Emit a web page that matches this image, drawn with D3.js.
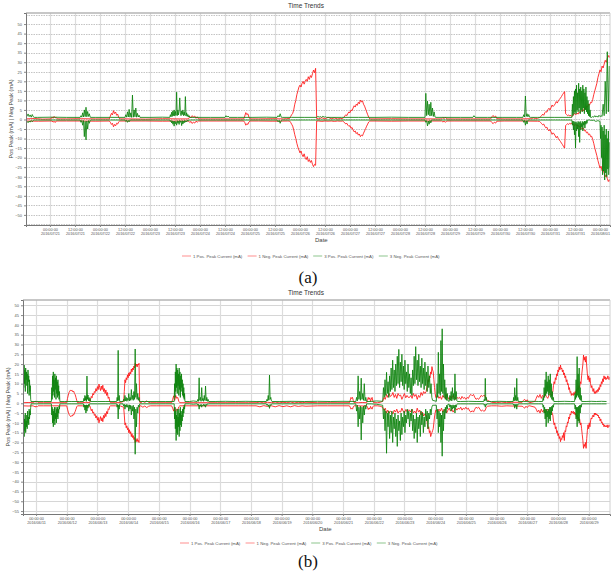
<!DOCTYPE html>
<html>
<head>
<meta charset="utf-8">
<script src="https://cdn.jsdelivr.net/npm/d3@7"></script>
<style>
  body { margin: 0; background: #fff; }
  svg { display: block; font-family: "Liberation Sans", Arial, sans-serif; }
</style>
</head>
<body>
<svg id="chart" width="612" height="576"></svg>
<script>
// series are stored as runs: [first hour, hour step, [values]]
// hours count from the first labelled midnight of each panel
const seriesNames = ["1 Pos. Peak Current (mA)", "1 Neg. Peak Current (mA)",
                     "3 Pos. Peak Current (mA)", "3 Neg. Peak Current (mA)"];
const seriesColors = ["#ff1414", "#ff1414", "#0d820d", "#0d820d"];

const aStart = "2016-07-21T00:00:00Z";
const aYTicks = [-50,-45,-40,-35,-30,-25,-20,-15,-10,-5,0,5,10,15,20,25,30,35,40,45,50];
const aGridY = [-55,-50,-45,-40,-35,-30,-25,-20,-15,-10,-5,0,5,10,15,20,25,30,35,40,45,50,55];

const aRed1Pos = [
  [-11.5, 4, [0.3,0.5,0.2]],
  [0.5, 0.5, [0.3,1.3,0.6,1.6,0.8,1.1,0.3]],
  [8, 7, [0.3,0.4,0.3]],
  [28.5, 0.5, [0.3,1.8,3.2,2.4,4.6,3.1,3.9,2.2,2.8,1.0,0.3]],
  [38, 8, [0.3,0.2,0.4,0.3]],
  [66.5, 0.6, [0.3,1.5,0.8,2.0,1.2,1.8,0.6,1.4,0.3]],
  [76, 8, [0.3,0.3]],
  [93, 0.5, [0.3,1.8,3.6,2.5,3.0,1.2,0.3]],
  [100, 7, [0.3,0.4]],
  [112, 1.5, [0.3,0.4]],
  [115, 0.5, [0.5,1.5,2.5,3.2,5,8,10,13,15,17,18,17,19,20,18.5,20,21,20,22.4,21,23,22,24,25.9,24.5,26.8,0.5]],
  [129, 1.5, [0.3,0.9,0.3,1.1,0.4,0.8,0.3,0.5]],
  [140.5, 0.5, [0.5,1,1.8,2.5,2,3.2,4,3.5,5,4.6,6,7.2,6.5,8,7.4,9,8.2,10.2,9.1,9.8,8,7,5.5,4,2.5,1.2,0.3]],
  [156, 8, [0.3,0.4,0.3,0.3]],
  [188, 0.6, [0.3,1.0,0.4,1.2,0.3]],
  [194, 8, [0.3,0.3]],
  [211.5, 0.6, [0.3,1.4,2.1,1.2,1.8,0.4]],
  [218, 8, [0.3,0.3]],
  [231, 1, [0.4,0.8,0.5,0.6]],
  [235, 0.5, [1,1.5,2,2.8,2.2,3.5,4.2,3.8,5.2,5.9,5,6.2,7.6,6.8,7.4,8.2,9.4,8.6,9.8,10.5,11.2,12,13,13.8,14.6,3,2.5,2,2.4,1.8,2.2,1.5,2,3]],
  [252, 0.5, [3,2.5,3.4,2.8,4,3.5,4.6,5,4.4,6,5.5,7,6.5,8,7.6,9,8.8,10.5,13,15,17,19,22,24,26,25,28,27,29,31,30,32,33.5,32.5,34,35]]
];
const aRed1Neg = [
  [-11.5, 6, [-0.8,-0.9,-0.8]],
  [1, 0.5, [-0.8,-1.4,-0.9,-1.6,-0.8]],
  [8, 7, [-0.8,-0.8,-0.9]],
  [28.5, 0.5, [-0.8,-1.5,-2.6,-2,-3.8,-2.6,-3.3,-2,-2.4,-1.2,-0.8]],
  [38, 8, [-0.8,-0.8,-0.9,-0.8]],
  [66.5, 0.6, [-0.8,-1.6,-1,-2.1,-1.3,-1.9,-0.9,-1.4,-0.8]],
  [76, 8, [-0.8,-0.8]],
  [93, 0.5, [-0.8,-1.6,-3,-2.2,-2.6,-1.3,-0.8]],
  [100, 7, [-0.8,-0.9,-0.8]],
  [115, 0.5, [-0.8,-1.5,-2.5,-3.5,-5.5,-8,-10,-12.5,-14.5,-16,-17.5,-16.5,-18.5,-19.5,-18,-20,-21,-19.5,-22,-21,-22.5,-21.5,-23.5,-24.7,-23.5,-24,-0.8]],
  [129, 1.5, [-0.8,-1,-0.8,-0.9,-0.8,-1,-0.8,-0.9]],
  [140.5, 0.5, [-0.8,-1.2,-1.8,-2.4,-2,-3,-3.6,-3.2,-4.6,-4.2,-5.5,-6.5,-6,-7.4,-6.8,-8.2,-7.6,-9,-8.2,-8.6,-7.2,-6,-4.8,-3.5,-2.4,-1.3,-0.8]],
  [156, 8, [-0.8,-0.9,-0.8,-0.8]],
  [188, 0.6, [-0.8,-1.3,-0.9,-1.5,-0.8]],
  [194, 8, [-0.8,-0.8]],
  [211.5, 0.6, [-0.8,-1.6,-2.2,-1.4,-1.9,-0.9]],
  [218, 8, [-0.8,-0.8,-0.9]],
  [235, 0.5, [-1,-1.6,-2.2,-2.8,-2.4,-3.6,-4.4,-4,-5.4,-6,-5.2,-6.5,-7.8,-7,-7.6,-8.6,-9.6,-8.8,-10,-10.8,-11.5,-12.4,-13.2,-14.2,-15,-3.2,-2.6,-2.2,-2.6,-2,-2.4,-1.8,-2.2,-3]],
  [252, 0.5, [-3,-2.6,-3.4,-3,-4,-3.6,-4.6,-5,-4.4,-6,-5.6,-7,-6.6,-8,-7.6,-9,-8.8,-10.5,-12.5,-15,-17,-19,-21.5,-23.5,-25.5,-24.5,-27,-26.5,-28,-30,-29,-31,-32.5,-31.5,-33,-32]]
];
const aGrn3Pos = [
  [-11.5, 0.5, [1.1,1.8,2.9,1.5,2.4,1.2,2.6,1.4,1.1]],
  [-6, 7, [1.1,1.2,1.1]],
  [14.5, 0.4, [1.1,2,1.2,3.5,1.3,5,1.5,6.4,1.4,4.2,1.6,3,1.2,1.1]],
  [22, 7, [1.1,1.1]],
  [36, 0.4, [1.1,2.5,1.2,4,1.3,5.3,1.2,3.5,1.1,12.8,1.2,5,1.4,6,1.2,3.2,1.3,2.2,1.1]],
  [48, 6, [1.1,1.2]],
  [57.5, 0.3, [1.1,2.5,1.4,3.8,1.6,4.5,2,5,1.8,4.2,2.2,14.3,2,5,2.4,4.6,11.3,3.8,2,4.4,2.6,5,2,4,2.2,12,1.8,3.5,1.6,2.6,1.3,2,1.1]],
  [70, 7, [1.1,1.1]],
  [84, 0.5, [1.1,2,1.2,1.8,1.1]],
  [90, 7, [1.1,1.1,1.2]],
  [109, 0.5, [1.1,2,1.3,3,1.2,1.1]],
  [116, 6, [1.1,1.1]],
  [128, 0.6, [1.1,1.6,1.2,1.5,1.1,1.7,1.2,1.4,1.1]],
  [140, 8, [1.1,1.1,1.1,1.2,1.1]],
  [180, 0.4, [1.1,13.7,2,9.6,2.5,8,1.8,9,2,6,1.6,4,1.3,1.1]],
  [190, 7, [1.1,1.1]],
  [203, 0.5, [1.1,2,1.2,1.1]],
  [210, 7, [1.1,1.1,1.1]],
  [227, 0.4, [1.1,2.5,1.3,12.3,1.6,3,1.4,2.6,1.2,1.1]],
  [234, 8, [1.1,1.1]],
  [250.5, 0.25, [1.1,8,2,12,3,15,4,16,3,18,5,14,4,19,6,16,3,17,5,15,4,18,6,16,3,14,5,17,4,12,3,10,2,8,1.5,5,1.1]],
  [260, 0.5, [1.1,1.5,1.2,2,1.3,1.8,1.2,2.2,1.5,2,1.6,8,2,20,3,35.5,4,28,3,30]]
];
const aGrn3Neg = [
  [-11.5, 0.5, [-0.3,-1,-1.7,-0.8,-1.4,-0.5,-1.2,-0.4,-0.3]],
  [-6, 7, [-0.3,-0.3,-0.3]],
  [14.5, 0.4, [-0.3,-1.5,-0.5,-3,-0.6,-9,-1,-10.7,-0.8,-5,-0.6,-2,-0.4,-0.3]],
  [22, 7, [-0.3,-0.3]],
  [36, 0.4, [-0.3,-1,-0.4,-1.5,-0.5,-1.2,-0.3]],
  [44, 6, [-0.3,-0.3,-0.3]],
  [57.5, 0.3, [-0.3,-1,-0.5,-1.8,-0.7,-2.5,-1,-3.5,-0.8,-2.2,-1.2,-3,-0.6,-2,-0.9,-2.6,-0.5,-1.5,-0.8,-3.2,-0.6,-2.4,-0.9,-1.8,-0.5,-1.4,-0.7,-1.2,-0.4,-0.9,-0.3,-0.6,-0.3]],
  [70, 10, [-0.3,-0.3,-0.3,-0.3]],
  [109, 0.5, [-0.3,-1.2,-0.4,-2,-0.5,-0.3]],
  [116, 8, [-0.3,-0.3,-0.3,-0.3,-0.3,-0.3,-0.3,-0.3]],
  [180, 0.4, [-0.3,-1.5,-0.6,-3.4,-0.8,-2.5,-0.5,-1.8,-0.4,-0.3]],
  [188, 10, [-0.3,-0.3,-0.3,-0.3]],
  [227, 0.4, [-0.3,-1.5,-0.5,-3,-0.6,-2.4,-0.4,-0.3]],
  [234, 8, [-0.3,-0.3]],
  [250.5, 0.25, [-0.3,-3,-0.8,-5.5,-1,-8,-1.5,-15,-1.2,-6,-2,-5,-1,-9,-1.5,-12,-1,-5.5,-2,-4,-1,-6,-1.5,-3,-0.8,-4.5,-1,-2.5,-0.5,-2,-0.3]],
  [259, 1, [-0.3,-0.5,-0.4,-1,-0.6]],
  [264, 0.25, [-1,-10,-3,-20,-4,-29,-6,-27,-3,-31.7,-8,-28,-5,-30,-10,-26,-6,-29,-12,-25]]
];

const bStart = "2016-06-11T00:00:00Z";
const bYTicks = [-55,-50,-45,-40,-35,-30,-25,-20,-15,-10,-5,0,5,10,15,20,25,30,35,40,45,50];
const bGridY = [-55,-50,-45,-40,-35,-30,-25,-20,-15,-10,-5,0,5,10,15,20,25,30,35,40,45,50];

const bRed1Pos = [
  [-10.2, 4, [0.3,0.4,0.3]],
  [-2, 0.6, [0.3,1,0.5,1.2,0.6,0.9,0.3]],
  [6, 6, [0.3,0.3,0.3]],
  [24, 0.6, [0.3,2.5,4.2,5.5,6.2,6.8,6.4,6.6,5.8,6.2,5,4.4,3,1.5,0.3]],
  [36, 3, [0.3,0.5]],
  [42, 0.6, [0.3,2,3.5,2.8,5,4.2,6,5.5,7.5,6.2,8.5,7,9.8,8,6.5,8.8,7,9.2,6,7.5,5,6.8,4,5.5,2.5,3.2,1,0.3]],
  [62, 4, [0.3,0.4]],
  [68.5, 0.5, [1,6,12,10.5,13,12,14.5,13,15.5,14,16,15,17.5,16,18,17,19,18,20.4,19,20,18.5,20,19.5,20.4,0.5]],
  [82, 1.5, [0.3,1,0.4,1.2,0.5,0.3]],
  [94, 6, [0.3,0.3]],
  [106, 0.8, [0.3,2,3.8,1.5,4,2.5,3,1,0.3]],
  [118, 8, [0.3,0.3,0.3,0.3,0.3,0.3,0.3]],
  [172, 3, [0.3,0.6,0.2,0.5,0.3,0.6,0.2,0.5,0.3,0.6,0.2,0.5,0.3,0.5]],
  [220, 8, [0.3,0.3,0.3]],
  [245, 0.6, [0.3,1.5,3,2.4,3,1.4,0.3]],
  [252, 3, [0.3,0.4]],
  [258.5, 0.6, [0.3,1.5,3,2,2.8,1,2.2,3,1.2,0.3]],
  [267, 2, [0.3,0.5]],
  [271, 1, [1,3,2,4.5,3,5,3.5,4,5.5,3,4.5,2.5,5,3.8,4.2,2,3.5,5,2.8,4,3]],
  [292, 1, [3,4,2.5,5,3.5,4.5,2,4,3,5.5,4,6,5]],
  [305, 0.5, [6,8,10,12,11,14,13,16,15,18.7,17,16,12,8,5,3]],
  [313, 1, [3,4,2.5,3.5,2,4,3,2.5,4.5,3,2,3.5,2.5,4,3,2,3]],
  [330, 1, [2.5,3,2,3.5,2.5,3,2,3,2.5,4,4.5,3.8,4.5,3,2,2.5,2,3,4,3.5,4,3.8,2,1.5]],
  [356, 4, [0.5,0.3,0.6,0.3,0.5]],
  [380, 1, [0.5,1.5,2,1,1.8,0.6,0.3]],
  [390, 1, [1,2.5,4,3,4.5,2.5,4,3,4.5,3.5,2.5,4,5,3.8]],
  [404, 0.5, [6,9,11,10,13,12,15,14,17,16,18.5,17,19.5,17.5,18,16,17,14.5,15.5,13,14,11,12,9.5,10,7,8,5.5,6,4,5]],
  [420, 0.5, [4,5.5,4.5,6,5,7,6,8,7,9,8,11,10,14,17,20,24.6,22,23.5,21,24,19,15,12,14,11,13,10,8,9,7,6,7.5,5,6]],
  [437.5, 0.5, [5,6.5,5.5,7,6,8,7,9.5,8.5,11,10,12.5,11,14,12.5,13.5,12,13,12.5,14,13,12,13.5]]
];
const bRed1Neg = [
  [-10.2, 4, [-1.3,-1.4,-1.3]],
  [-2, 0.6, [-1.3,-1.8,-1.4,-2,-1.5,-1.7,-1.3]],
  [6, 6, [-1.3,-1.3,-1.3]],
  [24, 0.6, [-1.3,-3,-4.5,-5.6,-6.3,-6.8,-6.4,-6.6,-5.8,-6,-5,-4.2,-3,-1.8,-1.3]],
  [36, 3, [-1.3,-1.5]],
  [42, 0.6, [-1.3,-2.5,-3.8,-3,-5,-4.4,-6.2,-5.6,-7.5,-6.4,-8.6,-7.2,-10,-8.2,-6.8,-9,-7.4,-9.4,-6.2,-7.6,-5.2,-6.8,-4.2,-5.4,-2.8,-3.2,-1.6,-1.3]],
  [62, 4, [-1.3,-1.4]],
  [68.5, 0.5, [-2,-6,-11,-10,-12.5,-11.5,-13.5,-12.5,-15,-13.5,-15.5,-14.5,-17,-15.5,-17.5,-16.5,-18.5,-17.5,-20,-18.5,-19.5,-18,-19.5,-19,-20,-1.3]],
  [82, 1.5, [-1.3,-2,-1.4,-2.2,-1.5,-1.3]],
  [94, 6, [-1.3,-1.3]],
  [106, 0.8, [-1.3,-2.5,-4,-2,-4.2,-3,-3.4,-1.8,-1.3]],
  [118, 8, [-1.3,-1.3,-1.3,-1.3,-1.3,-1.3,-1.3]],
  [172, 3, [-1.3,-1.8,-1.2,-1.6,-1.3,-1.8,-1.2,-1.7,-1.3,-1.8,-1.2,-1.6,-1.3,-1.5]],
  [220, 8, [-1.3,-1.3,-1.3]],
  [245, 0.6, [-1.3,-2,-3,-2.6,-3,-1.8,-1.3]],
  [252, 3, [-1.3,-1.4]],
  [258.5, 0.6, [-1.3,-2,-3.2,-2.4,-3,-1.6,-2.4,-3,-1.8,-1.3]],
  [267, 2, [-1.3,-1.5]],
  [271, 1, [-2,-3.5,-2.5,-5,-3.5,-5,-4,-4.5,-5.5,-3.5,-4.5,-3,-5,-4,-4.5,-2.5,-4,-5,-3.2,-4.2,-3.5]],
  [292, 1, [-3.5,-4.5,-3,-5,-4,-5,-2.5,-4.5,-3.5,-6,-4.5,-6.5,-5.5]],
  [305, 0.5, [-6,-8,-11,-13,-12,-15,-14,-17,-16,-15,-14,-13,-10,-7,-5,-3.5]],
  [313, 1, [-3.5,-4.5,-3,-4,-2.5,-4.5,-3.5,-3,-5,-3.5,-2.5,-4,-3,-4.5,-3.5,-2.5,-3.5]],
  [330, 1, [-2.5,-3,-2,-3.5,-2.5,-3,-2,-3,-2.5,-4,-4.5,-3.8,-4.5,-3,-2,-2.5,-2,-3,-4,-3.5,-4,-3.8,-2,-1.5]],
  [356, 4, [-1.3,-1.3,-1.5,-1.3,-1.4]],
  [380, 1, [-1.5,-2,-2.5,-1.5,-2.2,-1.3,-1.3]],
  [390, 1, [-2,-3,-4.5,-3.5,-5,-3,-4.5,-3.5,-5,-4,-3,-4.5,-5.5,-4.2]],
  [404, 0.5, [-6,-9,-11,-10,-13,-12,-15,-14,-16.5,-15.5,-18,-17,-19.6,-18,-18.5,-16.5,-17.5,-15,-19,-14,-14.5,-11.5,-12,-9.5,-10,-7,-8,-5.5,-6,-4,-5]],
  [420, 0.5, [-4,-5.5,-4.5,-6,-5,-7,-6,-8,-7,-9,-8,-11,-10,-13,-16,-19,-23,-21,-22,-20,-23,-18,-14,-11,-13,-10,-12,-9,-7.5,-8,-6.5,-6,-7,-5,-6]],
  [437.5, 0.5, [-5,-6,-5.5,-6.5,-6,-7.5,-7,-9,-8,-10,-9.5,-11,-10.5,-12,-11,-12,-11.5,-12,-11,-12.5,-12,-11,-12]]
];
const bGrn3Pos = [
  [-10.2, 0.3, [1,14,8,19.5,10,17,6,18,12,16,9,15,5,17,11,14,4,12,6,9,2,0.9]],
  [0, 6, [0.9,0.9]],
  [12, 0.3, [0.9,8,2,14,4,16,6,12,3,15,7,13,2,14,5,11,3,12,4,9,2,6,0.9]],
  [22, 6, [0.9,0.9,0.9]],
  [37, 0.4, [0.9,2.5,1.2,4,1.5,3.5,1,13.9,2,4.2,1.3,3,1.1,2.5,0.9]],
  [48, 6, [0.9,0.9]],
  [63, 0.4, [0.9,3,1.2,27,1.5,4,0.9]],
  [68, 0.5, [0.9,2,1,4,1.2,3,1,2.5,1.5,5,1.2,3,1.5,7,2,4,1.5,6,2,27.7,3,10,2,5,1.5,3,0.9]],
  [85, 8, [0.9,0.9,0.9]],
  [108, 0.3, [0.9,10,3,16,6,20,8,18,5,17,9,15,4,18,7,16,3,14,6,15,8,12,4,10,3,8,2,5,0.9]],
  [120, 3, [0.9,1.2]],
  [126, 0.5, [0.9,2,1,13,1.5,3,1,8,1.4,2.5,1,4,1.5,8.8,1.2,3,1,2,0.9]],
  [140, 8, [0.9,1,0.9,1,0.9]],
  [180, 0.5, [0.9,2,1.2,4,1.5,14.4,2,3,1.2,0.9]],
  [190, 10, [0.9,1,0.9,1,0.9,1]],
  [250, 0.6, [0.9,3,1.2,14,2,6,1.5,12.8,2,5,1.5,10,1.2,3,0.9]],
  [262, 4, [0.9,1.2]],
  [271, 0.6, [1,8,3,12,4,15.8,5,11,3,14,6,18,7,22,8,17,6,20,9,24,10,27.5,8,21,11,25,9,19,7,22,10,16,6,20,8,15,5,13,4,17,9,24,10,28.9,12,22,9,25,11,19,8,23,10,18,7,21,9,16,6,19,8,14,5,10,3,1.5]],
  [313, 0.5, [1,10,3,26,5,15,4,32,6,38,5,20,3,12,2,8,1.5,5,1.2]],
  [323, 0.5, [1,4,1.5,6,1.2,8,2,5,1.5,15,2,6,1.2,0.9]],
  [332, 6, [0.9,1,0.9]],
  [350, 0.4, [0.9,2,1.2,12.7,1.5,3,0.9]],
  [356, 6, [0.9,1,0.9]],
  [373, 0.4, [0.9,3,1.2,8,1.5,4,1.2,12.7,1.4,3,0.9]],
  [381, 6, [0.9,1,0.9]],
  [396, 0.4, [0.9,3,1.5,8,3,12,4,16,5,11,6,14,4,12,5,15,3,10,2,6,1.5,3,0.9]],
  [408, 5, [0.9,1,0.9]],
  [421, 0.4, [0.9,5,2,12,3,23.8,4,15,3,18,2,8,1.5,4,0.9]],
  [430, 4, [0.9,1,0.9,1,0.9]]
];
const bGrn3Neg = [
  [-10.2, 0.3, [-1,-12,-6,-17,-8,-14,-5,-15,-9,-12,-6,-13,-4,-10,-7,-11,-3,-8,-4,-6,-2,-0.3]],
  [0, 6, [-0.3,-0.3]],
  [12, 0.3, [-0.3,-6,-2,-10,-3,-12,-4,-9,-2,-11,-5,-8,-2,-10,-3,-7,-2,-8,-3,-5,-1.5,-3,-0.3]],
  [22, 6, [-0.3,-0.3,-0.3]],
  [37, 0.4, [-0.3,-2,-0.8,-3.5,-1,-5,-0.8,-4,-1,-2.5,-0.6,-1.5,-0.3]],
  [48, 6, [-0.3,-0.3]],
  [63, 0.4, [-0.3,-2,-0.6,-8,-1,-3,-0.3]],
  [68, 0.5, [-0.3,-1.5,-0.5,-3,-0.8,-2,-0.5,-2,-1,-4,-0.8,-3,-1,-6,-1.5,-4,-1,-8,-2,-26,-3,-12,-2,-5,-1,-2,-0.3]],
  [85, 8, [-0.3,-0.3,-0.3]],
  [108, 0.3, [-0.3,-8,-2,-13,-4,-19,-6,-15,-3,-16,-7,-12,-3,-17,-5,-14,-2,-11,-4,-12,-6,-9,-3,-7,-2,-5,-1,-3,-0.3]],
  [120, 3, [-0.3,-0.5]],
  [126, 0.5, [-0.3,-1,-0.5,-3,-0.8,-1.5,-0.5,-2,-0.8,-1.2,-0.5,-1.5,-0.6,-2,-0.5,-1,-0.3,-0.5,-0.3]],
  [140, 8, [-0.3,-0.3,-0.3,-0.3,-0.3]],
  [180, 0.5, [-0.3,-1,-0.5,-1.5,-0.8,-2.6,-0.6,-1.2,-0.4,-0.3]],
  [190, 10, [-0.3,-0.3,-0.3,-0.3,-0.3,-0.3]],
  [250, 0.6, [-0.3,-4,-1,-12,-2,-8,-1.5,-18.7,-2,-10,-1.5,-6,-1,-3,-0.3]],
  [262, 4, [-0.3,-0.5]],
  [271, 0.6, [-1,-8,-3,-14,-4,-25.5,-5,-12,-4,-18,-6,-15,-4,-20,-7,-13,-5,-17,-8,-22,-6,-14,-9,-19,-5,-16,-7,-12,-4,-15,-6,-10,-3,-8,-4,-12,-5,-9,-3,-14,-6,-18,-8,-15,-5,-20,-7,-13,-6,-17,-4,-11,-5,-15,-7,-12,-3,-9,-4,-13,-5,-8,-3,-6,-2,-1]],
  [313, 0.5, [-1,-8,-3,-15,-4,-12,-5,-20,-6,-27,-4,-14,-3,-8,-2,-5,-1,-3,-0.5]],
  [323, 0.5, [-0.5,-2,-0.8,-4,-1,-3,-0.8,-2.5,-1,-5,-0.8,-2,-0.5,-0.3]],
  [332, 6, [-0.3,-0.3,-0.3]],
  [350, 0.4, [-0.3,-1,-0.5,-2,-0.6,-1,-0.3]],
  [356, 6, [-0.3,-0.3,-0.3]],
  [373, 0.4, [-0.3,-1,-0.5,-2.5,-0.6,-1.5,-0.5,-3,-0.6,-1,-0.3]],
  [381, 6, [-0.3,-0.3,-0.3]],
  [396, 0.4, [-0.3,-2,-1,-5,-2,-8,-3,-12,-3,-7,-4,-10,-3,-8,-2,-9,-2,-6,-1.5,-4,-1,-2,-0.3]],
  [408, 5, [-0.3,-0.3,-0.3]],
  [421, 0.4, [-0.3,-3,-1,-8,-2,-12,-2,-9,-1.5,-10,-1,-5,-0.8,-2,-0.3]],
  [430, 4, [-0.3,-0.3,-0.3,-0.3,-0.3]]
];

const HOUR = 3600e3;
const svg = d3.select("#chart");

function expand(runs, start) {
  const t0 = Date.parse(start);
  const pts = [];
  runs.forEach(([h0, dt, vals]) => {
    vals.forEach((v, i) => pts.push({ t: new Date(t0 + (h0 + i * dt) * HOUR), v: v }));
  });
  return pts;
}

function drawPanel(p) {
  const t0 = Date.parse(p.start);
  const x = d3.scaleUtc()
    .domain([new Date(t0 + p.hFrom * HOUR), new Date(t0 + p.hTo * HOUR)])
    .range([p.left, p.right]);
  const y = d3.scaleLinear().domain(p.yDomain).range([p.bottom, p.top]);

  const g = svg.append("g");
  const clipId = "clip-" + p.id;
  g.append("clipPath").attr("id", clipId)
    .append("rect")
    .attr("x", p.left).attr("y", p.top)
    .attr("width", p.right - p.left).attr("height", p.bottom - p.top);

  // grid
  const xTicks = d3.utcHour.every(p.tickHours).range(new Date(t0), new Date(t0 + p.hLastTick * HOUR + 1));
  g.append("g").selectAll("line")
    .data(p.gridY).enter().append("line")
    .attr("x1", p.left).attr("x2", p.right)
    .attr("y1", d => Math.round(y(d)) + 0.5).attr("y2", d => Math.round(y(d)) + 0.5)
    .attr("stroke", p.gridColor).attr("stroke-width", 1)
    .attr("stroke-dasharray", p.gridDash);
  g.append("g").selectAll("line")
    .data(xTicks).enter().append("line")
    .attr("x1", d => Math.round(x(d)) + 0.5).attr("x2", d => Math.round(x(d)) + 0.5)
    .attr("y1", p.top).attr("y2", p.bottom)
    .attr("stroke", "#dcdcdc").attr("stroke-width", 1.2);

  // series
  const line = d3.line().x(d => x(d.t)).y(d => y(d.v));
  const plot = g.append("g").attr("clip-path", "url(#" + clipId + ")");
  p.series.forEach((s, i) => {
    plot.append("path")
      .datum(expand(s, p.start))
      .attr("d", line)
      .attr("fill", "none")
      .attr("stroke", seriesColors[i])
      .attr("stroke-opacity", 0.85)
      .attr("stroke-width", 1);
  });

  // frame
  g.append("line").attr("x1", p.left).attr("x2", p.right)
    .attr("y1", p.top).attr("y2", p.top)
    .attr("stroke", "#b4b4b4").attr("stroke-width", 1.5);
  g.append("line").attr("x1", p.right).attr("x2", p.right)
    .attr("y1", p.top).attr("y2", p.bottom)
    .attr("stroke", "#d0d0d0").attr("stroke-width", 1);

  // axes
  const yAxis = g.append("g")
    .attr("transform", `translate(${p.left},0)`)
    .call(d3.axisLeft(y).tickValues(p.yTicks).tickSize(2).tickPadding(2));
  yAxis.select(".domain").attr("stroke", "#777");
  yAxis.selectAll(".tick line").attr("stroke", "#888");
  yAxis.selectAll(".tick text").attr("font-size", 4).attr("fill", "#555");

  const fTime = d3.utcFormat("%H:%M:%S");
  const fDate = d3.utcFormat("%Y/%m/%d");
  const xAxis = g.append("g")
    .attr("transform", `translate(0,${p.bottom})`)
    .call(d3.axisBottom(x).tickValues(xTicks).tickSize(2).tickFormat(""));
  xAxis.select(".domain").attr("stroke", "#777");
  xAxis.selectAll(".tick line").attr("stroke", "#888");
  xAxis.selectAll(".tick text").remove();
  const tickText = xAxis.selectAll(".tick").append("text")
    .attr("fill", "#555").attr("font-size", 3.8).attr("text-anchor", "middle");
  tickText.append("tspan").attr("x", 0).attr("y", 5.5).text(d => fTime(d));
  tickText.append("tspan").attr("x", 0).attr("y", 10).text(d => fDate(d));

  // titles
  g.append("text").attr("x", 306).attr("y", p.top - 5)
    .attr("text-anchor", "middle").attr("font-size", 6.5).attr("fill", "#333")
    .text("Time Trends");
  g.append("text").attr("x", p.dateX).attr("y", p.bottom + 17)
    .attr("font-size", 6).attr("fill", "#444").text("Date");
  g.append("text")
    .attr("transform", `translate(${p.left - 13},${(p.top + p.bottom) / 2}) rotate(-90)`)
    .attr("text-anchor", "middle").attr("font-size", 5.5).attr("fill", "#444")
    .text("Pos Peak (mA) | Neg Peak (mA)");

  // legend
  const leg = g.append("g").attr("transform", `translate(0,${p.legendY})`);
  seriesNames.forEach((name, i) => {
    const lx = p.legendX + i * 65.6;
    leg.append("line").attr("x1", lx).attr("x2", lx + 9).attr("y1", 0).attr("y2", 0)
      .attr("stroke", seriesColors[i]).attr("stroke-opacity", 0.6).attr("stroke-width", 0.8);
    leg.append("text").attr("x", lx + 11).attr("y", 1.5)
      .attr("font-size", 4.3).attr("fill", "#555").text(name);
  });

  // caption
  g.append("text").attr("x", 308).attr("y", p.captionY)
    .attr("text-anchor", "middle").attr("font-size", 17)
    .attr("font-family", "'Liberation Serif', 'DejaVu Serif', serif")
    .attr("fill", "#111").text(p.caption);
}

drawPanel({
  id: "a", start: aStart, hFrom: -11.5, hTo: 268.8, tickHours: 12, hLastTick: 264,
  left: 26, right: 610, top: 13, bottom: 225, yDomain: [-55.3, 55.8],
  yTicks: aYTicks, gridY: aGridY, gridColor: "#c4c4c4", gridDash: "1.5,1",
  series: [aRed1Pos, aRed1Neg, aGrn3Pos, aGrn3Neg],
  dateX: 315, legendY: 256, legendX: 182, caption: "(a)", captionY: 283
});
drawPanel({
  id: "b", start: bStart, hFrom: -10.2, hTo: 448.7, tickHours: 24, hLastTick: 432,
  left: 23, right: 610, top: 300, bottom: 514, yDomain: [-56.5, 52.7],
  yTicks: bYTicks, gridY: bGridY, gridColor: "#d6d6d6", gridDash: null,
  series: [bRed1Pos, bRed1Neg, bGrn3Pos, bGrn3Neg],
  dateX: 319, legendY: 543, legendX: 180, caption: "(b)", captionY: 567
});
</script>
</body>
</html>
